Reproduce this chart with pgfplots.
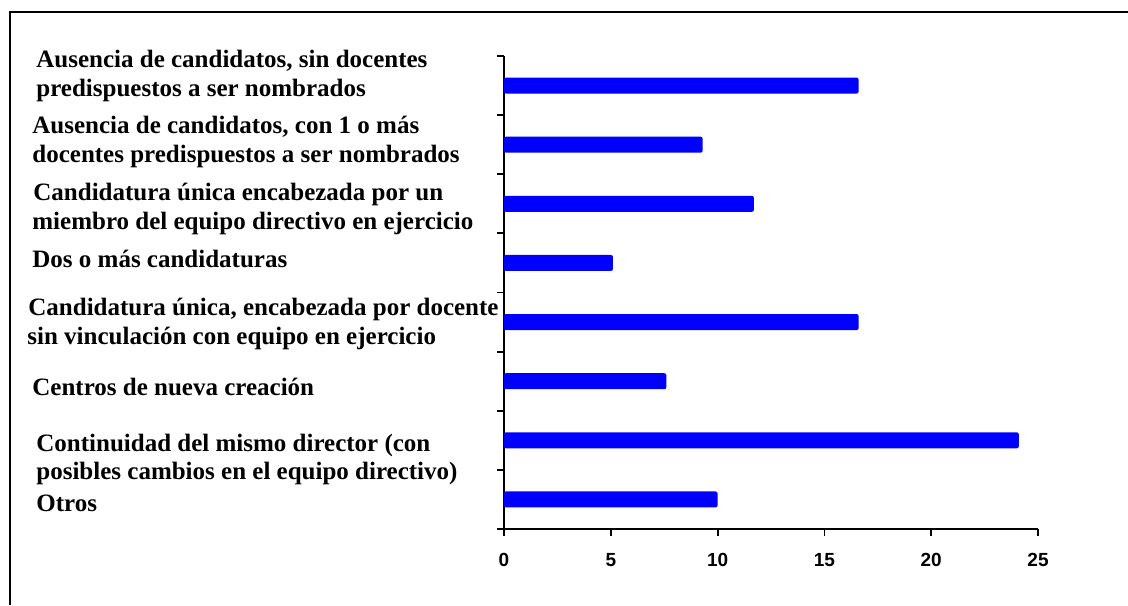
\documentclass[border=0pt]{standalone}
\usepackage{pgfplots}
\pgfplotsset{compat=1.18}
\usepackage{fontspec}
\setmainfont{Liberation Serif}
\newfontfamily\arialf{Liberation Sans}
\begin{document}
\begin{tikzpicture}
\useasboundingbox (0,0) rectangle (564pt,-302.5pt);
\draw[line width=1pt] (5pt,-302.5pt) -- (5pt,-6pt) -- (564pt,-6pt);
\begin{axis}[
  at={(252pt,-264.5pt)}, anchor=south west,
  scale only axis, width=267pt, height=236.5pt,
  xmin=0, xmax=25, ymin=0.5, ymax=8.5,
  axis lines*=left, axis line style={line width=0.9pt},
  xtick={0,5,10,15,20,25},
  ytick={0.5,1.5,2.5,3.5,4.5,5.5,6.5,7.5,8.5}, yticklabels={},
  tick align=outside, major tick length=3.5pt,
  tick style={line width=0.9pt, black},
  xticklabel style={font=\arialf\bfseries\fontsize{9.5}{11}\selectfont, yshift=-5pt},
  /pgf/number format/assume math mode=true,
  clip=false,
]
\addplot[xbar, bar width=8pt, fill=blue, draw=none, rounded corners=1pt]
  coordinates {(16.6,8) (9.3,7) (11.7,6) (5.1,5) (16.6,4) (7.6,3) (24.1,2) (10.0,1)};
\end{axis}
\begin{scope}[x=0.5pt,y=-0.5pt, every node/.style={anchor=base west, inner sep=0pt, font=\bfseries\fontsize{12.5}{14.5}\selectfont}]
\node at (36,67) {Ausencia de candidatos, sin docentes};
\node at (36,96) {predispuestos a ser nombrados};
\node at (32,133) {Ausencia de candidatos, con 1 o más};
\node at (32,162) {docentes predispuestos a ser nombrados};
\node at (33,200) {Candidatura única encabezada por un};
\node at (32,229) {miembro del equipo directivo en ejercicio};
\node at (32,267) {Dos o más candidaturas};
\node at (28,315) {Candidatura única, encabezada por docente};
\node at (27,344) {sin vinculación con equipo en ejercicio};
\node at (32,395) {Centros de nueva creación};
\node at (36,451) {Continuidad del mismo director (con};
\node at (36,479) {posibles cambios en el equipo directivo)};
\node at (36,511) {Otros};
\end{scope}
\end{tikzpicture}
\end{document}
